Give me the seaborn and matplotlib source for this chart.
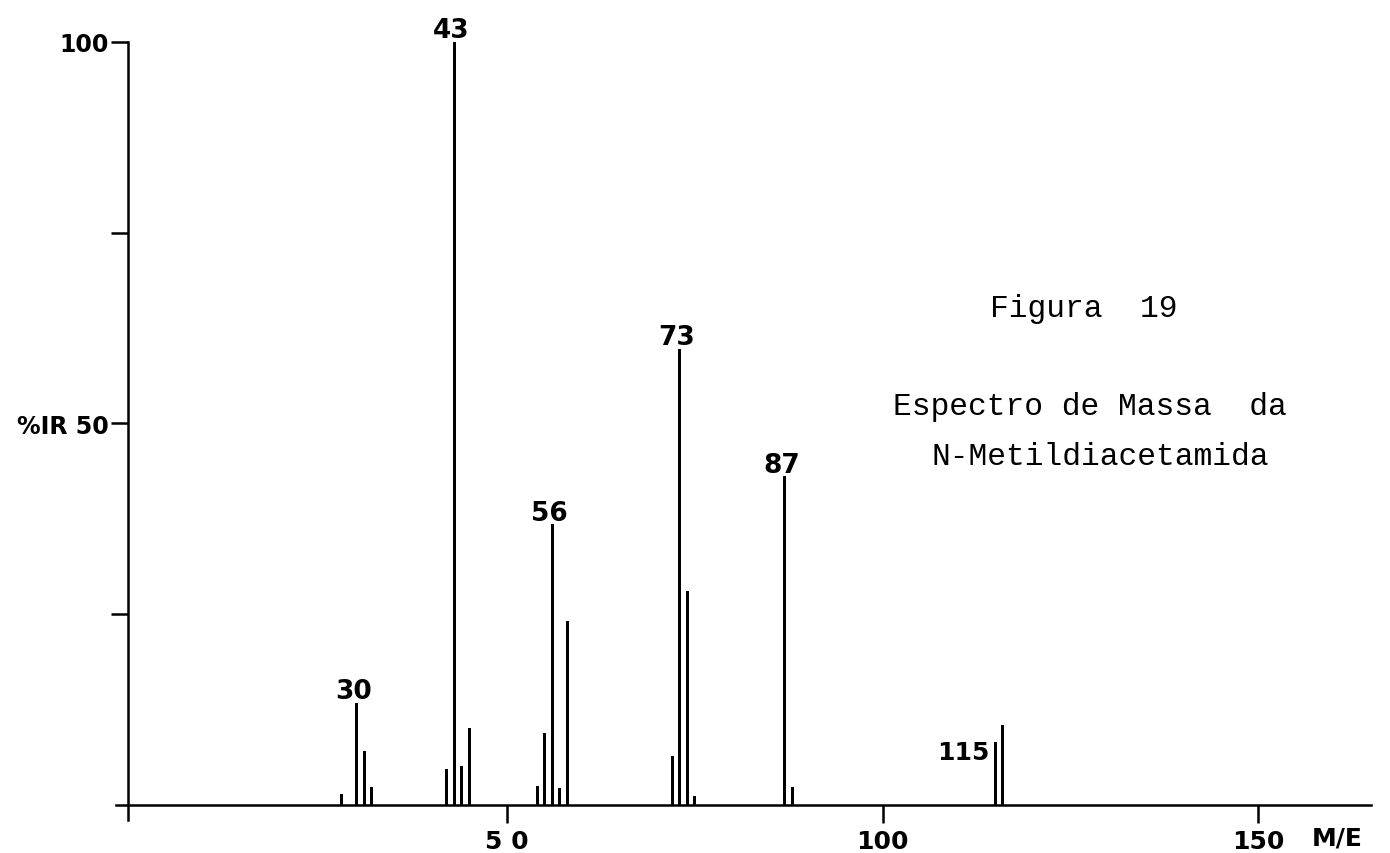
import numpy as np
import pandas as pd
import matplotlib
matplotlib.use("Agg")
import matplotlib.pyplot as plt
import seaborn as sns

# ---- data ----
mz = [28, 30, 31, 32, 42, 43, 44, 45, 54, 55, 56, 57, 58,
      72, 73, 74, 75, 87, 88, 115, 116]
intensity = [1.4, 13.4, 7.1, 2.4, 4.7, 100.0, 5.1, 10.1, 2.5, 9.5, 36.8, 2.2, 24.1,
             6.4, 59.8, 28.0, 1.2, 43.1, 2.4, 8.2, 10.5]
labeled_peaks = [30, 43, 56, 73, 87, 115]

xtick_vals = [50, 100, 150]
xtick_labels = ["5 0", "100", "150"]
ytick_vals = [50, 100]
ytick_labels = ["%IR 50", "100"]
yminor_vals = [25, 75]

title_lines = ["Figura  19", "Espectro de Massa  da", "N-Metildiacetamida"]
x_unit_label = "M/E"

# ---- figure ----
sns.set_style("white")
plt.rcParams["font.family"] = ["DejaVu Sans"]
plt.rcParams["text.color"] = "black"
plt.rcParams["xtick.color"] = "black"
plt.rcParams["ytick.color"] = "black"
plt.rcParams["xtick.labelcolor"] = "black"
plt.rcParams["ytick.labelcolor"] = "black"

fig = plt.figure(figsize=(13.9, 8.54), dpi=100)
ax = fig.add_axes([0.0811, 0.0294, 0.9104, 0.956])

df = pd.DataFrame({"mz": mz, "intensity": intensity})
sns.barplot(data=df, x="mz", y="intensity", native_scale=True, color="black",
            saturation=1, width=0.4, linewidth=0, errorbar=None, ax=ax)

ax.set_xlim(-2.5, 166)
ax.set_ylim(-3, 104)
ax.set_xlabel("")
ax.set_ylabel("")

for s in ["top", "right"]:
    ax.spines[s].set_visible(False)
ax.spines["left"].set_position(("data", -0.5))
ax.spines["bottom"].set_position(("data", 0))
ax.spines["left"].set_bounds(-2, 100)
ax.spines["bottom"].set_bounds(-2, 165)
for s in ["left", "bottom"]:
    ax.spines[s].set_linewidth(1.8)
    ax.spines[s].set_color("black")

ax.set_xticks(xtick_vals)
ax.set_xticklabels(xtick_labels, fontsize=18, fontweight="bold", color="black")
ax.set_yticks(ytick_vals)
ax.set_yticklabels(ytick_labels, fontsize=17, fontweight="bold", color="black")
ax.set_yticks(yminor_vals, minor=True)
ax.tick_params(axis="x", which="both", bottom=True, direction="out", length=13,
               width=1.8, pad=4, colors="black")
ax.tick_params(axis="y", which="both", left=True, direction="out", length=12,
               width=1.8, pad=2, colors="black")

# peak labels
lab_map = dict(zip(mz, intensity))
for p in labeled_peaks:
    h = lab_map[p]
    if p == 115:
        ax.text(p - 0.7, h - 2.2, str(p), ha="right", va="baseline",
                fontsize=18, fontweight="bold", color="black")
    else:
        ax.text(p - 0.4, h + 0.6, str(p), ha="center", va="baseline",
                fontsize=19, fontweight="bold", color="black")

ax.text(160.5, -4.3, x_unit_label, ha="center", va="center", fontsize=18,
        fontweight="bold", color="black", clip_on=False)

# caption (typewriter)
fig.text(990 / 1390, 1 - 317 / 854, title_lines[0], family="Liberation Mono",
         fontsize=22.5, va="baseline", ha="left", color="black")
fig.text(893 / 1390, 1 - 415 / 854, title_lines[1], family="Liberation Mono",
         fontsize=22.5, va="baseline", ha="left", color="black")
fig.text(932 / 1390, 1 - 465 / 854, title_lines[2], family="Liberation Mono",
         fontsize=22.5, va="baseline", ha="left", color="black")

fig.savefig("out.png", dpi=100, facecolor="white")
